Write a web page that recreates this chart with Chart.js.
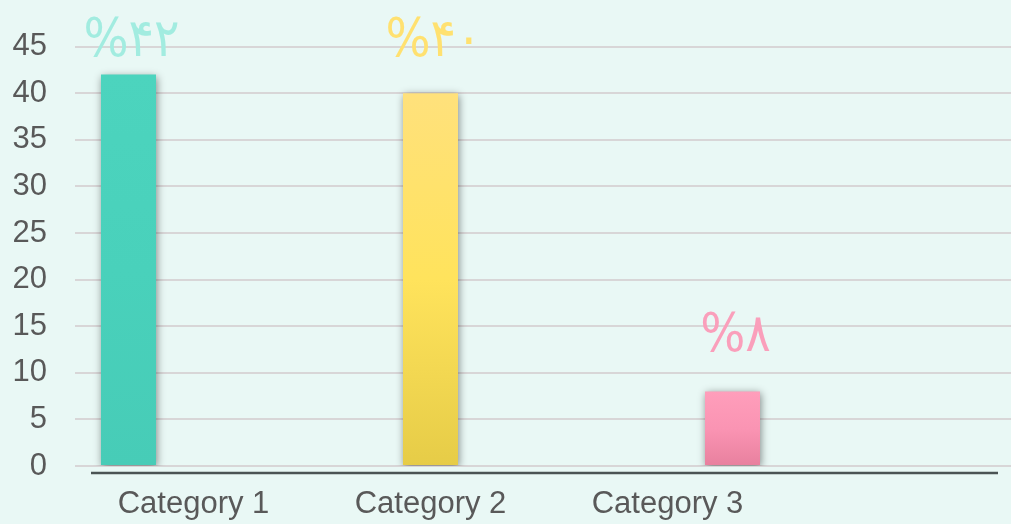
<!DOCTYPE html>
<html>
<head>
<meta charset="utf-8">
<script src="https://cdn.jsdelivr.net/npm/chart.js@4.4.1/dist/chart.umd.min.js"></script>
<style>
  html, body { margin: 0; padding: 0; background: #e9f8f5; overflow: hidden; }
  #wrap { width: 1023px; height: 524px; }
</style>
</head>
<body>
<div id="wrap"><canvas id="chart"></canvas></div>
<script>
// chart data
var categories = ['Category 1', 'Category 2', 'Category 3', ''];
var seriesNames = ['Series 1', 'Series 2', 'Series 3'];
var series1 = [42, null, null, null];
var series2 = [null, 40, null, null];
var series3 = [null, null, 8, null];
var pointLabels = ['%۴۲', '%۴۰', '%۸'];
var yTicks = [0, 5, 10, 15, 20, 25, 30, 35, 40, 45];

var fillStops = [
  ['#4cd4be', '#49d1bb', '#47ccb7'],
  ['#ffe17c', '#ffe35c', '#e6cc47'],
  ['#ff9ebb', '#fa94b3', '#e8809e']
];
var labelColors = ['#a2ece0', '#ffe170', '#fa9fbb'];

function barFill(idx) {
  return function (c) {
    var chart = c.chart;
    var stops = fillStops[idx];
    if (!chart.chartArea || c.raw == null) return stops[1];
    var y = chart.scales.y;
    var top = y.getPixelForValue(c.raw);
    var bottom = y.getPixelForValue(0);
    var g = chart.ctx.createLinearGradient(0, top, 0, bottom);
    g.addColorStop(0, stops[0]);
    g.addColorStop(0.5, stops[1]);
    g.addColorStop(1, stops[2]);
    return g;
  };
}

var bgPlugin = {
  id: 'bg',
  beforeDraw: function (chart) {
    var ctx = chart.ctx;
    ctx.save();
    ctx.fillStyle = '#e9f8f5';
    ctx.fillRect(0, 0, chart.width, chart.height);
    ctx.restore();
  }
};

var shadowPlugin = {
  id: 'barShadow',
  beforeDatasetsDraw: function (chart) {
    var ctx = chart.ctx;
    ctx.save();
    ctx.shadowColor = 'rgba(0,0,0,0.45)';
    ctx.shadowBlur = 8;
    ctx.shadowOffsetX = 1;
    ctx.shadowOffsetY = 2;
  },
  afterDatasetsDraw: function (chart) {
    chart.ctx.restore();
  }
};

var axisLinePlugin = {
  id: 'axisLine',
  afterDraw: function (chart) {
    var ctx = chart.ctx, a = chart.chartArea;
    var y0 = chart.scales.y.getPixelForValue(0) + 7;
    ctx.save();
    ctx.strokeStyle = '#4b5454';
    ctx.lineWidth = 2.5;
    ctx.beginPath();
    ctx.moveTo(a.left + 16, y0);
    ctx.lineTo(a.right - 25, y0);
    ctx.stroke();
    ctx.restore();
  }
};

var valueLabelPlugin = {
  id: 'valueLabels',
  afterDraw: function (chart) {
    var ctx = chart.ctx, a = chart.chartArea;
    chart.data.datasets.forEach(function (ds, i) {
      var meta = chart.getDatasetMeta(i);
      meta.data.forEach(function (bar, j) {
        if (ds.data[j] == null) return;
        var y = Math.max(bar.y - 40, a.top + 9);
        ctx.save();
        ctx.translate(bar.x + 3, y);
        ctx.scale(1.08, 1.2);
        ctx.font = '44px "DejaVu Sans", sans-serif';
        ctx.textAlign = 'center';
        ctx.textBaseline = 'alphabetic';
        ctx.fillStyle = labelColors[i];
        ctx.fillText(pointLabels[i], 0, 0);
        ctx.restore();
      });
    });
  }
};

var dataSets = [series1, series2, series3].map(function (d, i) {
  return {
    label: seriesNames[i],
    data: d,
    backgroundColor: barFill(i),
    borderWidth: 0,
    categoryPercentage: 0.823,
    barPercentage: 0.846
  };
});

new Chart(document.getElementById('chart'), {
  type: 'bar',
  data: { labels: categories, datasets: dataSets },
  plugins: [bgPlugin, shadowPlugin, axisLinePlugin, valueLabelPlugin],
  options: {
    responsive: true,
    maintainAspectRatio: false,
    animation: false,
    layout: { padding: { top: 35.5, right: 0, bottom: 0, left: 0 } },
    plugins: { legend: { display: false }, tooltip: { enabled: false } },
    scales: {
      x: {
        afterFit: function (s) { s.height = 58; },
        grid: { display: false, drawTicks: false },
        border: { display: false },
        ticks: {
          color: '#595959',
          font: { family: '"Liberation Sans", Arial, sans-serif', size: 31 },
          padding: 20,
          maxRotation: 0,
          autoSkip: false
        }
      },
      y: {
        min: 0,
        max: 45,
        afterBuildTicks: function (s) {
          s.ticks = yTicks.map(function (v) { return { value: v }; });
        },
        afterFit: function (s) { s.width = 75; },
        grid: { color: '#d8d6d7', lineWidth: 2, drawTicks: false },
        border: { display: false },
        ticks: {
          color: '#595959',
          font: { family: '"Liberation Sans", Arial, sans-serif', size: 31 },
          padding: 28
        }
      }
    }
  }
});
</script>
</body>
</html>
